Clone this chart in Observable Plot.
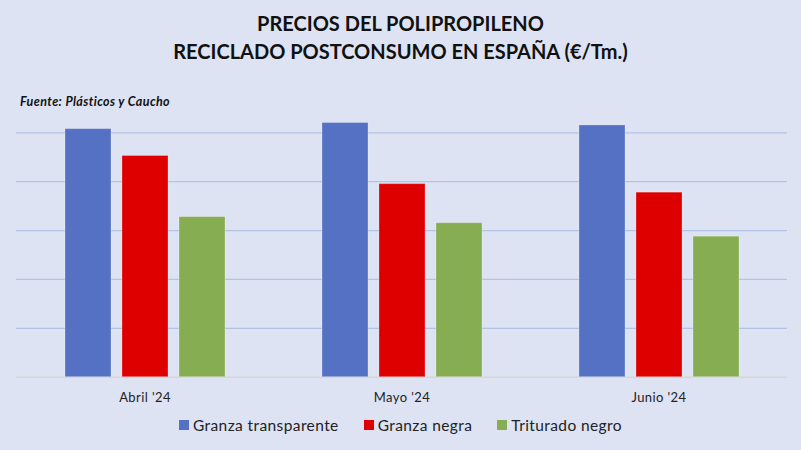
<!DOCTYPE html>
<html>
<head>
<meta charset="utf-8">
<script src="https://cdn.jsdelivr.net/npm/d3@7"></script>
<script src="https://cdn.jsdelivr.net/npm/@observablehq/plot@0.6"></script>
<style>
  html, body { margin: 0; padding: 0; background: #dde3f3; }
  #wrap { position: relative; width: 801px; height: 450px; background: #dde3f3; overflow: hidden; font-family: Lato, "Open Sans", sans-serif; }
  #title { position: absolute; left: 0; top: 9px; width: 801px; text-align: center; font-weight: 700; font-size: 20px; line-height: 28px; color: #111; }
  #source { position: absolute; left: 20px; top: 94px; font-weight: 700; font-style: italic; font-size: 12.5px; letter-spacing: 0.4px; color: #111; }
  #chart { position: absolute; left: 0; top: 110px; }
  #legend { position: absolute; left: 0; top: 416px; width: 801px; display: flex; justify-content: center; gap: 25px; font-size: 15.5px; letter-spacing: 0.4px; color: #222; }
  #legend span.item { display: flex; align-items: center; }
  #legend span.sw { display: inline-block; width: 10px; height: 10px; margin-right: 4px; }
</style>
</head>
<body>
<div id="wrap">
  <div id="title">PRECIOS DEL POLIPROPILENO<br>RECICLADO POSTCONSUMO EN ESPAÑA (€/Tm.)</div>
  <div id="source">Fuente: Plásticos y Caucho</div>
  <div id="chart"></div>
  <div id="legend"></div>
</div>
<script>
const months = ["Abril '24", "Mayo '24", "Junio '24"];
const series = ["Granza transparente", "Granza negra", "Triturado negro"];
const granzaTransparente = [1015, 1040, 1030];
const granzaNegra = [905, 790, 755];
const trituradoNegro = [655, 630, 575];
const colors = ["#5571c4", "#de0000", "#87ad53"];
const gridTicks = [200, 400, 600, 800, 1000];

const valuesBySeries = [granzaTransparente, granzaNegra, trituradoNegro];
const data = [];
months.forEach((m, i) => {
  series.forEach((s, j) => data.push({month: m, series: s, value: valuesBySeries[j][i]}));
});

const chart = Plot.plot({
  width: 801,
  height: 300,
  marginTop: 22.3,
  marginBottom: 33.3,
  marginLeft: 15,
  marginRight: 13,
  style: {background: "transparent", fontFamily: "Lato, 'Open Sans', sans-serif"},
  fx: {domain: months, padding: 0, label: null, axis: "bottom", tickSize: 0, tickPadding: 16, fontSize: 13},
  x: {domain: series, paddingInner: 0.2, paddingOuter: 0.84, axis: null},
  y: {domain: [0, 1000], axis: null},
  color: {domain: series, range: colors},
  marks: [
    Plot.ruleY(gridTicks, {stroke: "#b3c3e6", strokeWidth: 1.3}),
    Plot.ruleY([0], {stroke: "#d8d6d0", strokeWidth: 1.5}),
    Plot.barY(data, {fx: "month", x: "series", y: "value", fill: "series", stroke: "#ffffff", strokeOpacity: 0.25, strokeWidth: 1})
  ]
});
chart.style.fontSize = "13px";
chart.style.letterSpacing = "0.4px";
chart.querySelectorAll("text").forEach(t => t.setAttribute("fill", "#222"));
document.getElementById("chart").appendChild(chart);

const legend = document.getElementById("legend");
series.forEach((s, i) => {
  const item = document.createElement("span");
  item.className = "item";
  const sw = document.createElement("span");
  sw.className = "sw";
  sw.style.background = colors[i];
  item.appendChild(sw);
  item.appendChild(document.createTextNode(s));
  legend.appendChild(item);
});
</script>
</body>
</html>
